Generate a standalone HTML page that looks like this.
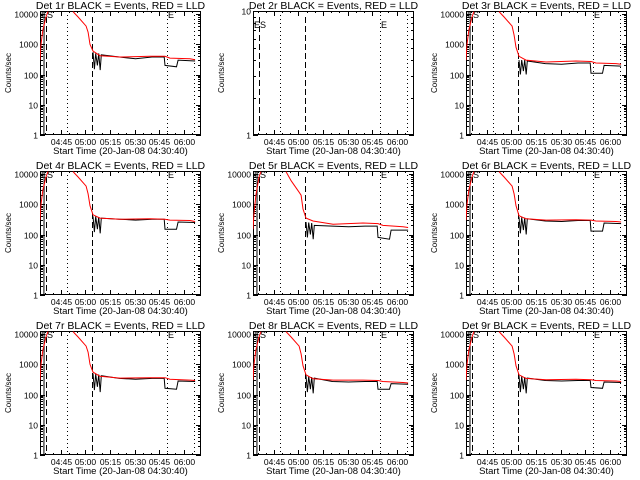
<!DOCTYPE html>
<html><head><meta charset="utf-8">
<style>
html,body{margin:0;padding:0;background:#fff;}
svg{display:block;}
text{font-family:"Liberation Sans",sans-serif;fill:#000;}
</style></head>
<body>
<svg id="chart" width="640" height="480" viewBox="0 0 640 480" xmlns="http://www.w3.org/2000/svg"></svg>
<script>
// Shared time points (minutes after 04:30:40); null = line break
const redTimes = [1.5,2.1,3.3,5.2,6.4,null,21.7,24.8,29.7,30.9,32.1,33.9,38.2,50.5,68.8,78,81,93.3,96.4];
const blackTimes = [1.5,3.9,4.0,null,33.9,34.8,35.6,36.6,37.4,38.3,39,50,60,70,77.5,78,85,86,96.4];
const detLabels = ["1r","2r","3r","4r","5r","6r","7r","8r","9r"];
const xTickLabels = ["04:45","05:00","05:15","05:30","05:45","06:00"];
const xTickTimes = [14.33,29.33,44.33,59.33,74.33,89.33];
const dashedTimes = [5.2,33.5];
const dottedTimes = [18.3,79.5,96.0];
const red1 = [300,1000,3000,8000,12000,null,12000,8000,4000,2500,1000,600,420,380,400,400,350,330,310];
const black1 = [0.5,0.5,15000,null,550,150,500,200,500,140,450,380,330,380,380,200,180,300,280];
const red3 = [300,1000,3000,8000,12000,null,12000,8000,4000,2000,800,400,300,260,280,270,240,230,220];
const black3 = [0.5,0.5,15000,null,300,100,300,130,300,100,280,230,220,240,240,110,110,200,190];
const red4 = [300,1000,3000,8000,12000,null,12000,8000,4000,2200,900,450,350,320,330,320,300,290,270];
const black4 = [0.5,0.5,15000,null,400,120,400,150,380,110,350,320,300,320,320,150,150,260,250];
const red5 = [150,500,2000,8000,12000,null,12000,6000,2500,2000,700,350,280,220,240,230,200,180,170];
const black5 = [0.5,0.5,15000,null,260,80,250,100,240,70,200,190,180,190,190,80,70,140,140];
const red6 = [300,1000,3000,8000,12000,null,12000,8000,4000,2200,900,420,330,300,310,300,280,270,260];
const black6 = [0.5,0.5,15000,null,380,110,370,140,360,100,330,280,270,290,290,130,130,240,230];
const red7 = [300,1000,3000,8000,12000,null,12000,8000,4000,2500,1000,550,400,350,360,360,320,300,290];
const black7 = [0.5,0.5,15000,null,500,140,480,180,460,120,420,340,320,340,340,160,150,280,270];
const red8 = [300,1000,3000,8000,12000,null,12000,8000,4000,2200,900,450,330,300,300,290,270,250,240];
const black8 = [0.5,0.5,15000,null,420,120,400,150,380,110,350,270,260,270,270,150,150,230,220];
const red9 = [300,1000,3000,8000,12000,null,12000,8000,4000,2200,900,450,340,310,320,310,290,280,270];
const black9 = [0.5,0.5,15000,null,420,120,400,150,380,110,350,290,280,290,290,170,160,260,250];
const redSeries = [red1,null,red3,red4,red5,red6,red7,red8,red9];
const blackSeries = [black1,null,black3,black4,black5,black6,black7,black8,black9];

const NS = "http://www.w3.org/2000/svg";
const svg = document.getElementById("chart");
const BX0=40, BX1=201, BY0=11, BY1=135, T0=1.5, T1=100;
function mk(tag, attrs, parent){const e=document.createElementNS(NS,tag);for(const k in attrs)e.setAttribute(k,attrs[k]);parent.appendChild(e);return e;}

for(let p=0;p<9;p++){
  const ox=(p%3)*213, oy=Math.floor(p/3)*160;
  const empty = redSeries[p]===null;
  const lmin=0, lmax= empty?1:4.1;
  const xS=t=>ox+BX0+(t-T0)/(T1-T0)*(BX1-BX0);
  const yS=v=>oy+BY1-(Math.log10(v)-lmin)/(lmax-lmin)*(BY1-BY0);
  const g=mk("g",{},svg);
  
  
  const clipId="clip"+p;
  const cp=mk("clipPath",{id:clipId},g);
  mk("rect",{x:ox+BX0,y:oy+BY0,width:BX1-BX0,height:BY1-BY0},cp);
  const tt=mk("text",{x:ox+BX0+(BX1-BX0)/2,y:oy+9,"font-size":"10.5","text-anchor":"middle"},g);
  tt.textContent="Det "+detLabels[p]+" BLACK = Events, RED = LLD";
  
  
  const box=mk("rect",{x:ox+BX0+0.5,y:oy+BY0+0.5,width:BX1-BX0-1,height:BY1-BY0-1,fill:"none",stroke:"#000","stroke-width":"1"},g);
  
  
  for(let d=lmin; d<=Math.floor(lmax); d++){
    for(let m=1;m<=9;m++){
      const v=Math.pow(10,d)*m; if(Math.log10(v)>lmax+1e-9) break;
      const y=Math.round(yS(v))+0.5, len=m===1?5:3;
      mk("line",{x1:ox+BX0,x2:ox+BX0+len,y1:y,y2:y,stroke:"#000"},g);
      mk("line",{x1:ox+BX1,x2:ox+BX1-len,y1:y,y2:y,stroke:"#000"},g);
      if(m===1){
        const yl=mk("text",{x:ox+BX0-2,y:y+3,"font-size":"8.5","text-anchor":"end"},g);
        yl.textContent=String(Math.pow(10,d));
        
        
      }
    }
  }
  for(let i=0;i<xTickTimes.length;i++){
    const x=Math.round(xS(xTickTimes[i]))+0.5;
    mk("line",{x1:x,x2:x,y1:oy+BY1,y2:oy+BY1-5,stroke:"#000"},g);
    mk("line",{x1:x,x2:x,y1:oy+BY0,y2:oy+BY0+5,stroke:"#000"},g);
    const xl=mk("text",{x:x,y:oy+145,"font-size":"8.5","text-anchor":"middle"},g);
    xl.textContent=xTickLabels[i];
    
    
  }
  for(let t=xTickTimes[0]-10;t<T1;t+=5){
    if(t<T0) continue;
    const x=Math.round(xS(t))+0.5;
    mk("line",{x1:x,x2:x,y1:oy+BY1,y2:oy+BY1-2,stroke:"#000"},g);
    mk("line",{x1:x,x2:x,y1:oy+BY0,y2:oy+BY0+2,stroke:"#000"},g);
  }
  const xt=mk("text",{x:ox+BX0+(BX1-BX0)/2,y:oy+154,"font-size":"9.5","text-anchor":"middle"},g);
  xt.textContent="Start Time (20-Jan-08 04:30:40)";
  
  
  const yt=mk("text",{x:0,y:0,"font-size":"8","text-anchor":"middle",transform:"translate("+(ox+11)+","+(oy+(BY0+BY1)/2)+") rotate(-90)"},g);
  yt.textContent="Counts/sec";
  
  
  dashedTimes.forEach(t=>{const x=Math.round(xS(t))+0.5;
    const l=mk("line",{x1:x,x2:x,y1:oy+BY0+6,y2:oy+BY1,stroke:"#000","stroke-dasharray":"6,3"},g);
    
    });
  dottedTimes.forEach(t=>{const x=Math.round(xS(t))+0.5;
    const l=mk("line",{x1:x,x2:x,y1:oy+BY0,y2:oy+BY1,stroke:"#000","stroke-dasharray":"1,3"},g);
    
    });
  const esY = empty? oy+28 : oy+18;
  const es=mk("text",{x:ox+BX0+1,y:esY,"font-size":"9"},g);
  es.textContent="ES";
  
  
  const e2=mk("text",{x:xS(79.8),y:esY,"font-size":"9"},g);
  e2.textContent="E";
  
  
  if(empty) continue;
  function drawSeries(times, vals, color, name){
    let segs=[], cur=[];
    for(let i=0;i<times.length;i++){
      if(times[i]===null||vals[i]===null){ if(cur.length) segs.push(cur); cur=[]; continue;}
      cur.push(xS(times[i]).toFixed(1)+","+yS(vals[i]).toFixed(1));
    }
    if(cur.length) segs.push(cur);
    segs.forEach(s=>{
      const pl=mk("polyline",{points:s.join(" "),fill:"none",stroke:color,"stroke-width":"1","clip-path":"url(#"+clipId+")"},g);
      
      
    });
  }
  drawSeries(blackTimes, blackSeries[p], "#000", "events-line");
  drawSeries(redTimes, redSeries[p], "#f00", "lld-line");
}
</script>
</body></html>
